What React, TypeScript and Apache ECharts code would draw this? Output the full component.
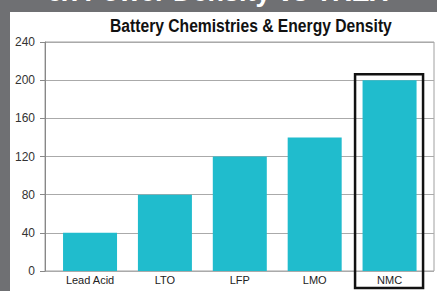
import React, { useEffect, useRef } from "react";
import * as echarts from "echarts";

const categories = ["Lead Acid", "LTO", "LFP", "LMO", "NMC"];
const energyDensity = [40, 80, 120, 140, 200];
const yTicks = [0, 40, 80, 120, 160, 200, 240];
const highlighted = "NMC";
const chartTitle = "Battery Chemistries & Energy Density";
const pageHeading = "ex Power Density vs TREX";

const FAM = '"Liberation Sans", Arial, sans-serif';

export default function App() {
  const ref = useRef<HTMLDivElement>(null);
  useEffect(() => {
    document.body.style.margin = "0";
    const chart = echarts.init(ref.current!, null, { renderer: "svg" });
    const yMin = yTicks[0];
    const yMax = yTicks[yTicks.length - 1];
    const step = yTicks[1] - yTicks[0];
    chart.setOption({
      animation: false,
      backgroundColor: "#6f7073",
      graphic: [
        { type: "rect", z: -10, shape: { x: 10, y: 12, width: 427, height: 279 }, style: { fill: "#ffffff" } },
        {
          type: "text",
          x: 47,
          y: -22,
          style: {
            text: pageHeading,
            fill: "#ffffff",
            fontSize: 27,
            fontWeight: "bold",
            fontFamily: FAM,
          },
        },
        {
          type: "text",
          x: 110,
          y: 17.5,
          scaleX: 0.87,
          style: {
            text: chartTitle,
            fill: "#111111",
            fontSize: 18,
            fontWeight: "bold",
            fontFamily: FAM,
            verticalAlign: "top",
          },
        },
      ],
      grid: [
        { left: 45, right: 3, top: 42, bottom: 20, show: true, borderColor: "#a0a0a0", borderWidth: 1, backgroundColor: "transparent" },
        { left: 52.6, right: 10, top: 42, bottom: 20 },
      ],
      xAxis: [
        { type: "value", gridIndex: 0, min: 0, max: 1, show: false },
        {
          type: "category",
          gridIndex: 1,
          data: categories,
          axisLine: { show: false },
          axisTick: { show: false },
          axisLabel: { margin: 3, fontSize: 11, color: "#222", fontFamily: FAM },
        },
      ],
      yAxis: [
        {
          type: "value",
          gridIndex: 0,
          min: yMin,
          max: yMax,
          interval: step,
          axisLine: { show: true, lineStyle: { color: "#888", width: 1 } },
          axisTick: { show: true, length: 5, lineStyle: { color: "#888" } },
          axisLabel: { margin: 10, fontSize: 12, color: "#333", fontFamily: FAM },
          splitLine: { show: true, lineStyle: { color: "#aaaaaa", width: 1 } },
        },
        { type: "value", gridIndex: 1, min: yMin, max: yMax, interval: step, show: false },
      ],
      series: [
        {
          type: "bar",
          xAxisIndex: 1,
          yAxisIndex: 1,
          data: energyDensity,
          barWidth: 54,
          itemStyle: { color: "#20bccd" },
        },
      ],
    });
    const idx = categories.indexOf(highlighted);
    const top = chart.convertToPixel({ xAxisIndex: 1, yAxisIndex: 1 }, [idx, energyDensity[idx]]) as number[];
    const base = chart.convertToPixel({ xAxisIndex: 1, yAxisIndex: 1 }, [idx, 0]) as number[];
    if (top && base) {
      const y0 = top[1] - 6;
      const y1 = base[1] + 17;
      chart.setOption({
        graphic: [
          {},
          {},
          {},
          {
            type: "rect",
            z: 10,
            shape: { x: top[0] - 34.5, y: y0, width: 68, height: y1 - y0 },
            style: { fill: "none", stroke: "#111", lineWidth: 2.5 },
          },
        ],
      });
    }
    return () => chart.dispose();
  }, []);
  return <div ref={ref} style={{ width: 437, height: 291 }} />;
}
